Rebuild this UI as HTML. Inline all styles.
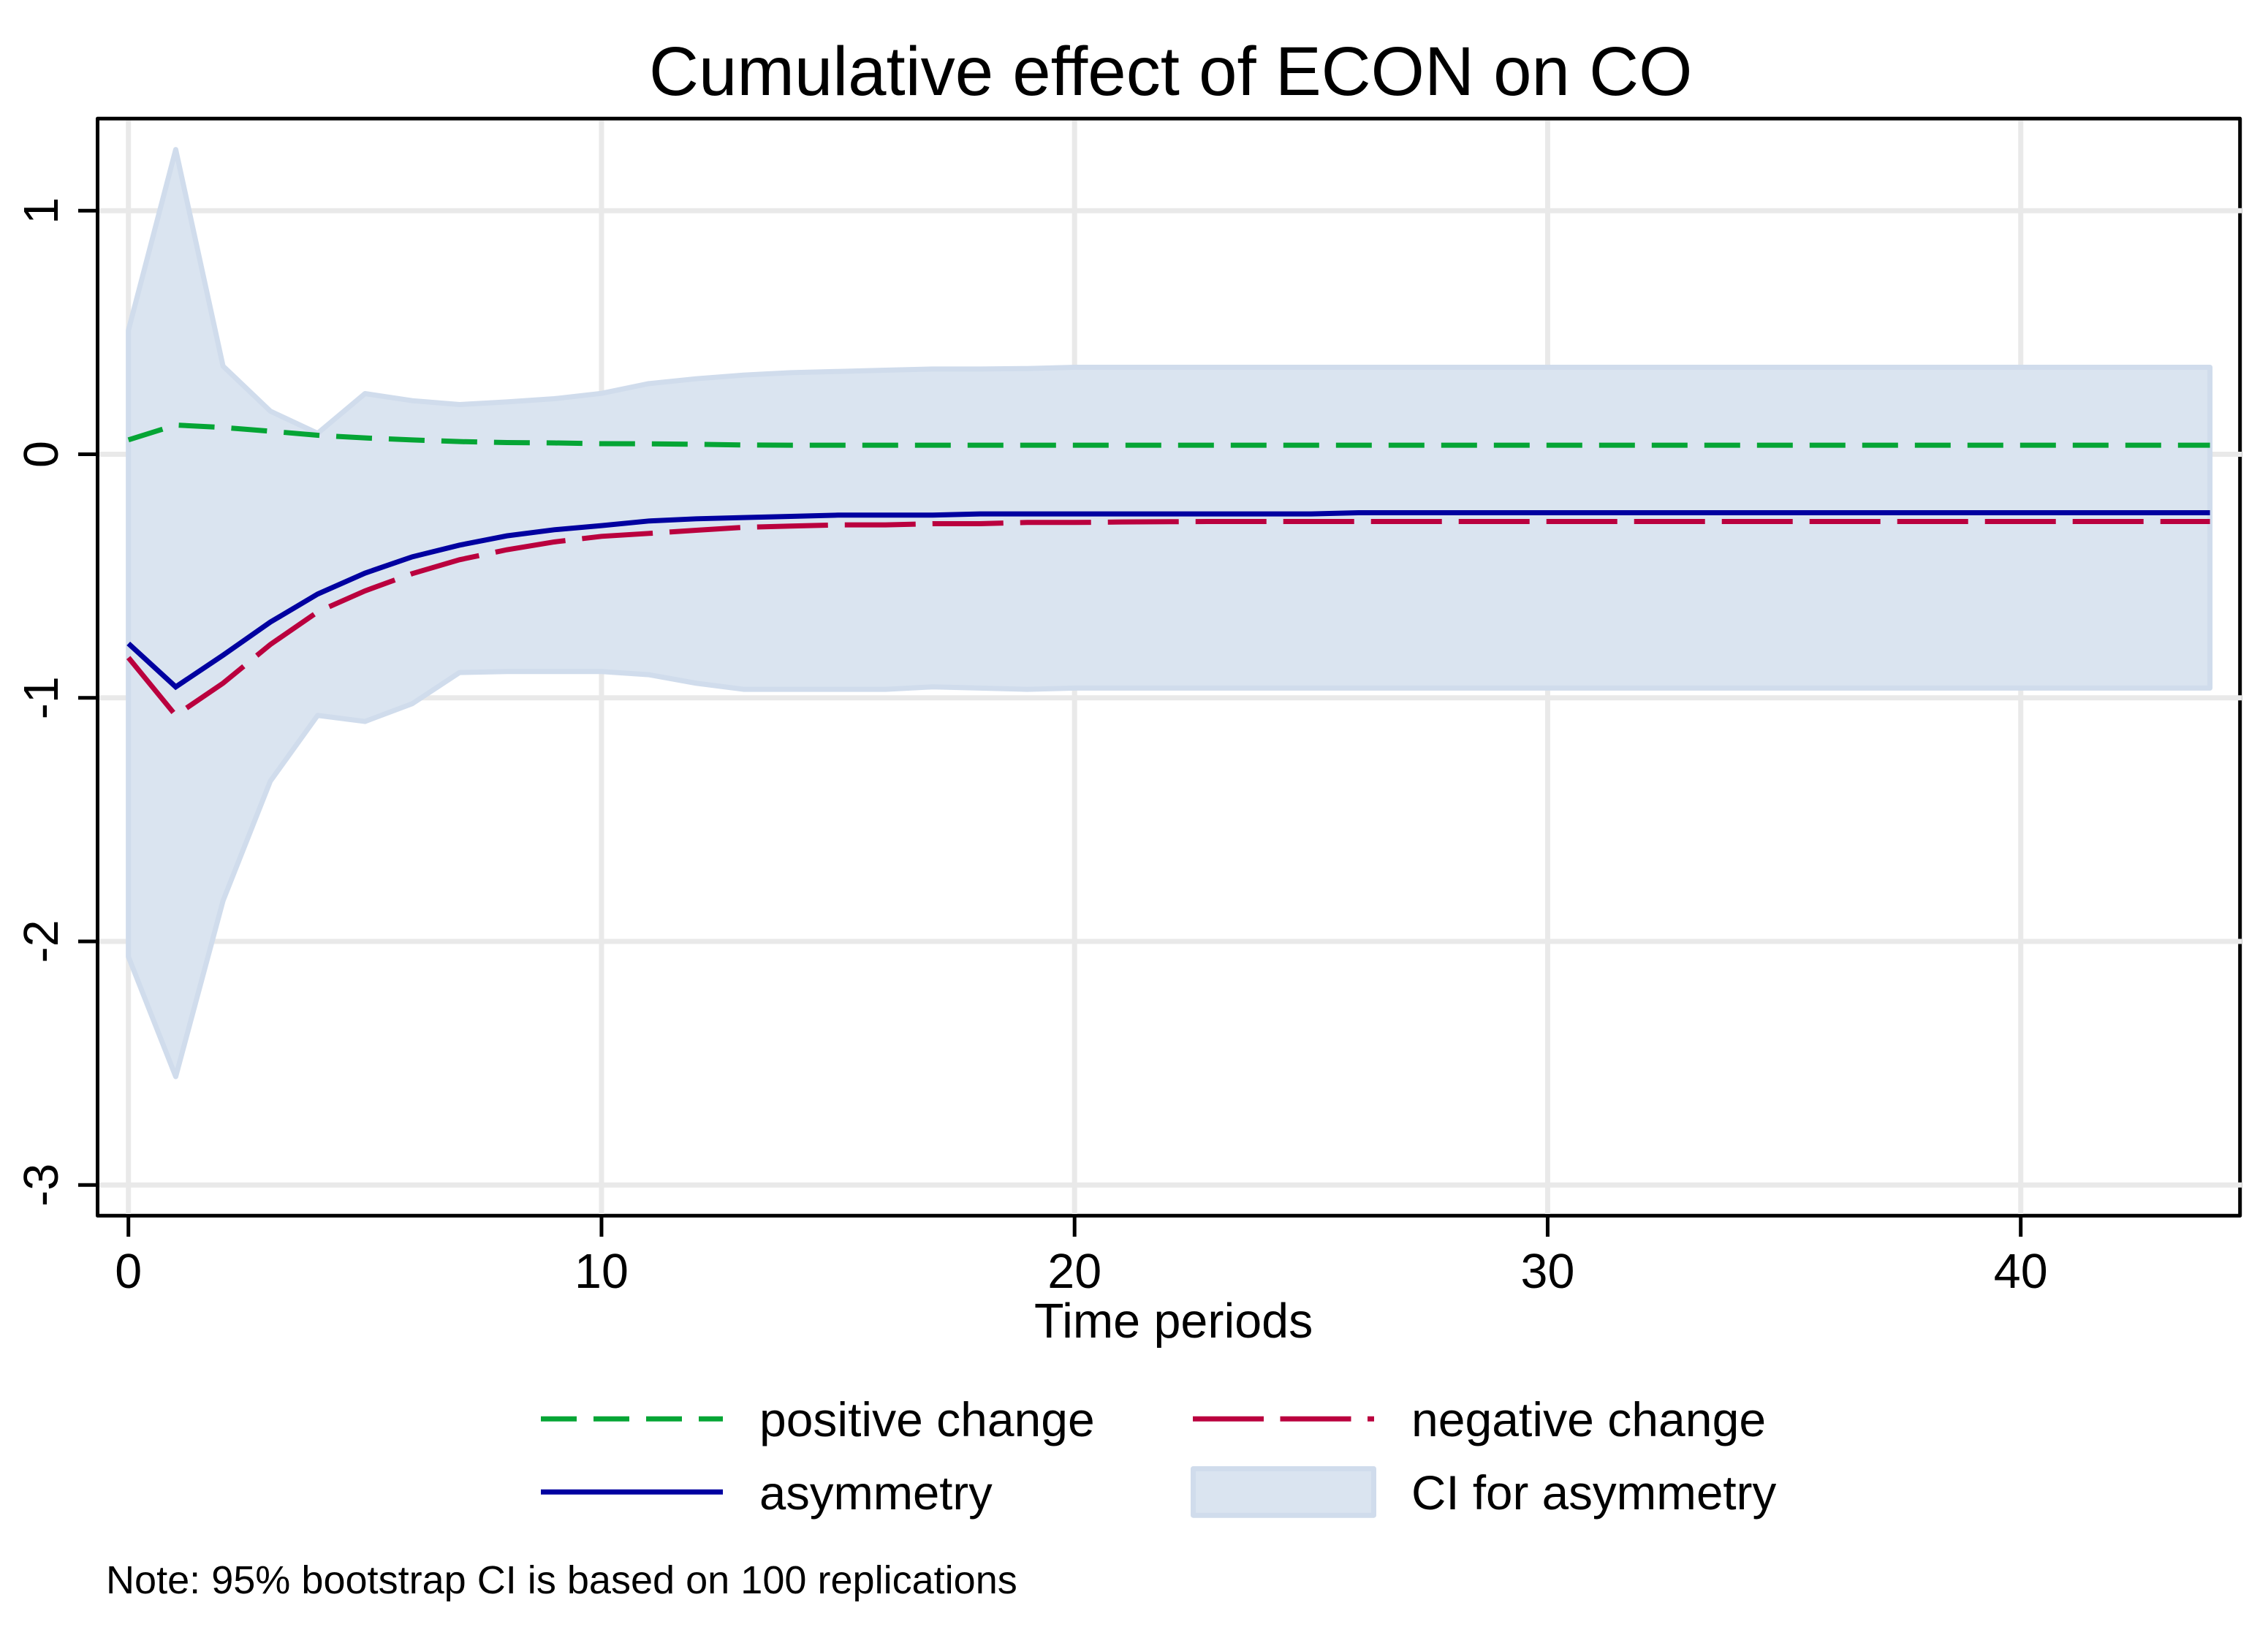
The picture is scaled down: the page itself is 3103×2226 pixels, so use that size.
<!DOCTYPE html>
<html>
<head>
<meta charset="utf-8">
<title>Cumulative effect of ECON on CO</title>
<style>
html,body{margin:0;padding:0;background:#fff;}
#chart{display:block;width:3103px;height:2226px;font-family:"Liberation Sans",Arial,sans-serif;fill:#000;}
</style>
</head>
<body>
<svg id="chart" xmlns="http://www.w3.org/2000/svg" width="3103" height="2226" viewBox="0 0 3103 2226">
  <rect x="0" y="0" width="3103" height="2226" fill="#ffffff"/>
  <text x="888" y="130" font-size="94.2">Cumulative effect of ECON on CO</text>
  <g id="plot"></g>
  <text x="1415" y="1830" font-size="66.4">Time periods</text>
  <g>
    <line x1="740" y1="1941.3" x2="989" y2="1941.3" stroke="#05a535" stroke-width="7" stroke-dasharray="49 23"/>
    <text x="1039" y="1965" font-size="66">positive change</text>
    <line x1="1632" y1="1941.3" x2="1880" y2="1941.3" stroke="#ba003e" stroke-width="7" stroke-dasharray="97 22.5"/>
    <text x="1931" y="1965" font-size="66.1">negative change</text>
    <line x1="740" y1="2041.3" x2="989" y2="2041.3" stroke="#0000a0" stroke-width="7"/>
    <text x="1039" y="2065" font-size="65.2">asymmetry</text>
    <rect x="1632.5" y="2009.5" width="247" height="63.7" fill="#dae4f0" stroke="#d0dcec" stroke-width="7" stroke-linejoin="round"/>
    <text x="1931" y="2065" font-size="65.6">CI for asymmetry</text>
  </g>
  <text x="145" y="2180" font-size="54.05">Note: 95% bootstrap CI is based on 100 replications</text>
</svg>
<script>
var periods = [0,1,2,3,4,5,6,7,8,9,10,11,12,13,14,15,16,17,18,19,20,21,22,23,24,25,26,27,28,29,30,31,32,33,34,35,36,37,38,39,40,41,42,43,44];
var positiveChange = [0.059,0.12,0.11,0.0945,0.078,0.067,0.059,0.052,0.048,0.0465,0.0435,0.043,0.041,0.038,0.037,0.037,0.037,0.037,0.037,0.037,0.037,0.037,0.037,0.037,0.037,0.037,0.037,0.037,0.037,0.037,0.037,0.037,0.037,0.037,0.037,0.037,0.037,0.037,0.037,0.037,0.037,0.037,0.037,0.037,0.037];
var negativeChange = [-0.835,-1.072,-0.94,-0.781,-0.647,-0.561,-0.49,-0.433,-0.392,-0.36,-0.337,-0.325,-0.312,-0.3,-0.295,-0.29,-0.29,-0.285,-0.285,-0.28,-0.28,-0.278,-0.277,-0.276,-0.276,-0.276,-0.276,-0.276,-0.276,-0.276,-0.276,-0.276,-0.276,-0.276,-0.276,-0.276,-0.276,-0.276,-0.276,-0.276,-0.276,-0.276,-0.276,-0.276,-0.276];
var asymmetry = [-0.777,-0.955,-0.825,-0.689,-0.574,-0.488,-0.421,-0.373,-0.335,-0.31,-0.293,-0.274,-0.265,-0.26,-0.255,-0.25,-0.25,-0.25,-0.245,-0.245,-0.245,-0.245,-0.245,-0.245,-0.245,-0.245,-0.24,-0.24,-0.24,-0.24,-0.24,-0.24,-0.24,-0.24,-0.24,-0.24,-0.24,-0.24,-0.24,-0.24,-0.24,-0.24,-0.24,-0.24,-0.24];
var ciUpper = [0.509,1.251,0.362,0.177,0.086,0.249,0.22,0.204,0.215,0.228,0.25,0.29,0.31,0.325,0.335,0.34,0.345,0.35,0.35,0.352,0.357,0.357,0.357,0.357,0.357,0.357,0.357,0.357,0.357,0.357,0.357,0.357,0.357,0.357,0.357,0.357,0.357,0.357,0.357,0.357,0.357,0.357,0.357,0.357,0.357];
var ciLower = [-2.063,-2.555,-1.833,-1.342,-1.072,-1.097,-1.024,-0.896,-0.892,-0.892,-0.892,-0.905,-0.94,-0.965,-0.965,-0.965,-0.965,-0.955,-0.96,-0.965,-0.96,-0.96,-0.96,-0.96,-0.96,-0.96,-0.96,-0.96,-0.96,-0.96,-0.96,-0.96,-0.96,-0.96,-0.96,-0.96,-0.96,-0.96,-0.96,-0.96,-0.96,-0.96,-0.96,-0.96,-0.96];
var xTicks = [0,10,20,30,40];
var yTicks = [-3,-2,-1,0,1];

var NS = 'http://www.w3.org/2000/svg';
var plot = document.getElementById('plot');
function xAxis(v){ return 175.7 + v * 64.725; }
function yAxis(v){ return 621.5 - v * 333.25; }
function make(tag, attrs){
  var el = document.createElementNS(NS, tag);
  for (var k in attrs) el.setAttribute(k, attrs[k]);
  plot.appendChild(el);
  return el;
}
function points(ys){
  return periods.map(function(p, i){ return xAxis(p).toFixed(2) + ',' + yAxis(ys[i]).toFixed(2); });
}

var frame = make('rect', {x:133.5, y:162.3, width:2931.2, height:1501, fill:'none', stroke:'#000', 'stroke-width':5, 'stroke-linejoin':'round'});



yTicks.forEach(function(t){
  var y = yAxis(t);
  var grid = make('line', {x1:136, y1:y, x2:3067, y2:y, stroke:'#e9e9e9', 'stroke-width':7});
  
  
  var tick = make('line', {x1:107, y1:y, x2:133, y2:y, stroke:'#000', 'stroke-width':5});
  
  
  var label = make('text', {x:79, y:y, 'font-size':66.4, 'text-anchor':'middle', transform:'rotate(-90 79 ' + y + ')'});
  label.textContent = String(t);
  
  
});

xTicks.forEach(function(t){
  var x = xAxis(t);
  var grid = make('line', {x1:x, y1:165, x2:x, y2:1661, stroke:'#e9e9e9', 'stroke-width':7});
  
  
  var tick = make('line', {x1:x, y1:1663, x2:x, y2:1692, stroke:'#000', 'stroke-width':5});
  
  
  var label = make('text', {x:x, y:1762, 'font-size':66.4, 'text-anchor':'middle'});
  label.textContent = String(t);
  
  
});

var band = make('polygon', {points: points(ciUpper).concat(points(ciLower).reverse()).join(' '), fill:'#dae4f0', stroke:'#d0dcec', 'stroke-width':7, 'stroke-linejoin':'round'});



var greenLine = make('polyline', {points: points(positiveChange).join(' '), fill:'none', stroke:'#05a535', 'stroke-width':7, 'stroke-dasharray':'49 23'});



var blueLine = make('polyline', {points: points(asymmetry).join(' '), fill:'none', stroke:'#0000a0', 'stroke-width':7});



var redLine = make('polyline', {points: points(negativeChange).join(' '), fill:'none', stroke:'#ba003e', 'stroke-width':7, 'stroke-dasharray':'97 23'});


</script>
</body>
</html>
